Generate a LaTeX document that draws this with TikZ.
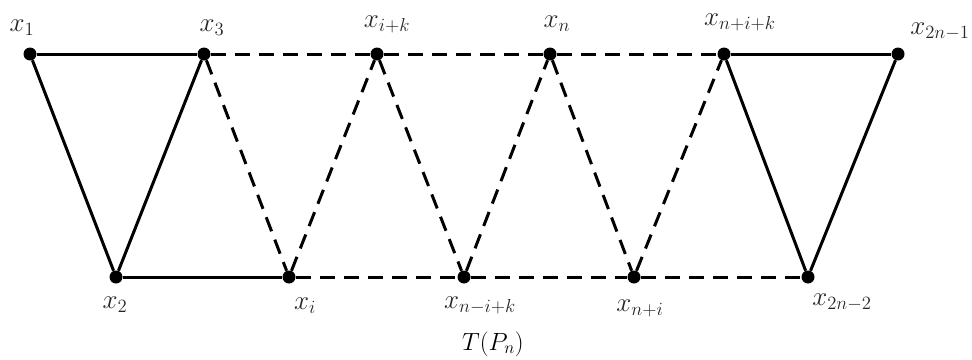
\documentclass[tikz,border=0pt]{standalone}
\begin{document}
\begin{tikzpicture}[x=1pt,y=-1pt,
  vtx/.style={circle,fill=black,inner sep=0pt,minimum size=13pt},
  lab/.style={font=\fontsize{22}{26}\selectfont,text=black!85,inner sep=0pt,scale=1.3},
  sol/.style={line width=3pt},
  dsh/.style={line width=3pt,dash pattern=on 15pt off 9pt}]
\useasboundingbox (0,0) rectangle (972,359);
% top row
\node[vtx] (x1) at (30,54) {};
\node[vtx] (x3) at (204,54) {};
\node[vtx] (xik) at (377,54) {};
\node[vtx] (xn) at (550,54) {};
\node[vtx] (xnik) at (724,54) {};
\node[vtx] (x2n1) at (898,54) {};
% bottom row
\node[vtx] (x2) at (116,277) {};
\node[vtx] (xi) at (289,277) {};
\node[vtx] (xnmik) at (464,277) {};
\node[vtx] (xni) at (634,277) {};
\node[vtx] (x2n2) at (808,277) {};
% labels
\node[lab] (l1) at (22,28) {$x_1$};
\node[lab] (l3) at (212,28) {$x_3$};
\node[lab] (lik) at (387,24) {$x_{i+k}$};
\node[lab] (ln) at (557,24) {$x_n$};
\node[lab] (lnik) at (740,22) {$x_{n+i+k}$};
\node[lab] (l2n1) at (940,31) {$x_{2n-1}$};
\node[lab] (l2) at (115,305) {$x_2$};
\node[lab] (li) at (305,306) {$x_i$};
\node[lab] (lnmik) at (480,305) {$x_{n-i+k}$};
\node[lab] (lni) at (640,308) {$x_{n+i}$};
\node[lab] (l2n2) at (842,302) {$x_{2n-2}$};
\node[font=\fontsize{25}{29}\selectfont,inner sep=0pt] (cap) at (493,344) {$T(P_n)$};
% solid edges
\draw[sol] (x1) -- (x3);
\draw[sol] (x1) -- (x2);
\draw[sol] (x2) -- (x3);
\draw[sol] (x2) -- (xi);
\draw[sol] (xnik) -- (x2n1);
\draw[sol] (xnik) -- (x2n2);
\draw[sol] (x2n1) -- (x2n2);
% dashed edges
\draw[dsh] (x3) -- (xik);
\draw[dsh] (xik) -- (xn);
\draw[dsh] (xn) -- (xnik);
\draw[dsh] (xi) -- (xnmik);
\draw[dsh] (xnmik) -- (xni);
\draw[dsh] (xni) -- (x2n2);
\draw[dsh] (x3) -- (xi);
\draw[dsh] (xi) -- (xik);
\draw[dsh] (xik) -- (xnmik);
\draw[dsh] (xnmik) -- (xn);
\draw[dsh] (xn) -- (xni);
\draw[dsh] (xni) -- (xnik);
\end{tikzpicture}
\end{document}
